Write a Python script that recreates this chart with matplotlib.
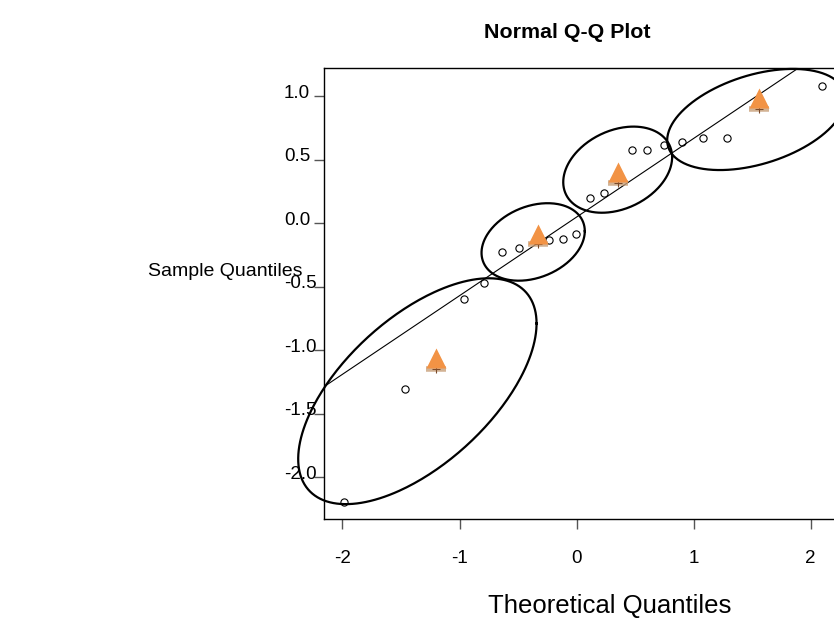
import matplotlib
matplotlib.use("Agg")
import matplotlib.pyplot as plt
import matplotlib.transforms as mtransforms
import numpy as np

plt.rcParams['font.family'] = ['Liberation Sans', 'DejaVu Sans']

# sample points (theoretical, sample)
theo = [-1.985, -1.466, -0.962, -0.792, -0.635, -0.495, -0.234, -0.117, -0.006,
        0.111, 0.231, 0.470, 0.598, 0.747, 0.897, 1.076, 1.286, 2.097]
samp = [-2.192, -1.305, -0.598, -0.470, -0.224, -0.192, -0.131, -0.121, -0.084,
        0.200, 0.239, 0.575, 0.575, 0.614, 0.638, 0.668, 0.668, 1.081]

# reference line
line_int = 0.049
line_slope = 0.619

# group means (triangles)
mean_x = [-1.204, -0.328, 0.355, 1.554]
mean_y = [-1.061, -0.082, 0.402, 0.988]

# group ellipses: centre, half width, half height, correlation
ell_cx = [-1.360, -0.371, 0.351, 1.535]
ell_cy = [-1.322, -0.147, 0.422, 0.817]
ell_sx = [1.018, 0.441, 0.465, 0.761]
ell_sy = [0.889, 0.305, 0.339, 0.398]
ell_rho = [0.60, 0.28, 0.29, 0.41]

xticks = [-2, -1, 0, 1, 2]
yticks = [-2.0, -1.5, -1.0, -0.5, 0.0, 0.5, 1.0]

W, H = 834, 620
fig = plt.figure(figsize=(W/100, H/100), dpi=100)
ax = fig.add_axes([324.3/W, (H-519)/H, (840-324.3)/W, (519-68.3)/H])
ax.set_xlim(-2.155, 2.25)
ax.set_ylim(-2.328, 1.220)

xx = np.array(ax.get_xlim())
ax.plot(xx, line_int + line_slope*xx, color='black', lw=0.8)

t = np.linspace(0, 2*np.pi, 300)
for cx, cy, sx, sy, r in zip(ell_cx, ell_cy, ell_sx, ell_sy, ell_rho):
    ex = cx + sx*np.cos(t)
    ey = cy + sy*(r*np.cos(t) + np.sqrt(1-r**2)*np.sin(t))
    ax.plot(ex, ey, color='black', lw=1.6, clip_on=False)

ax.plot(theo, samp, 'o', mfc='none', mec='black', ms=5.2, mew=0.8)

# little mark under each triangle
my = np.array(mean_y)
ax.plot(mean_x, my - 0.085, '_', color='#c8a07a', ms=14, mew=4, alpha=0.8)
ax.plot(mean_x, my - 0.085, '+', color='#7a4a2a', ms=6, mew=0.8)
ax.plot(mean_x, mean_y, '^', color='#f29345', ms=15, mec='none')

for s in ['left', 'top', 'bottom']:
    ax.spines[s].set_color('black')
    ax.spines[s].set_linewidth(1.0)
ax.spines['right'].set_visible(False)

ax.set_xticks(xticks)
ax.set_xticklabels([str(v) for v in xticks])
ax.tick_params(axis='x', length=7.5, width=1, color='#555555', pad=15, labelsize=13.5)
ax.set_yticks(yticks)
ax.set_yticklabels([])
ax.tick_params(axis='y', length=7.2, width=1, color='#555555')

trans = mtransforms.blended_transform_factory(fig.transFigure, ax.transData)
trans = trans + mtransforms.ScaledTranslation(0, -1.5/100, fig.dpi_scale_trans)
for v in yticks:
    ax.text(284/W, v, f"{v:.1f}", transform=trans, ha='left', va='baseline', fontsize=13.5)

fig.text(567/W, 1-32/H, "Normal Q-Q Plot", ha='center', va='center', fontsize=15.4, fontweight='bold')
fig.text(148/W, 1-272/H, "Sample Quantiles", ha='left', va='center', fontsize=14)
fig.text(610/W, 1-606/H, "Theoretical Quantiles", ha='center', va='center', fontsize=18.5)

fig.savefig("out.png", dpi=100)
